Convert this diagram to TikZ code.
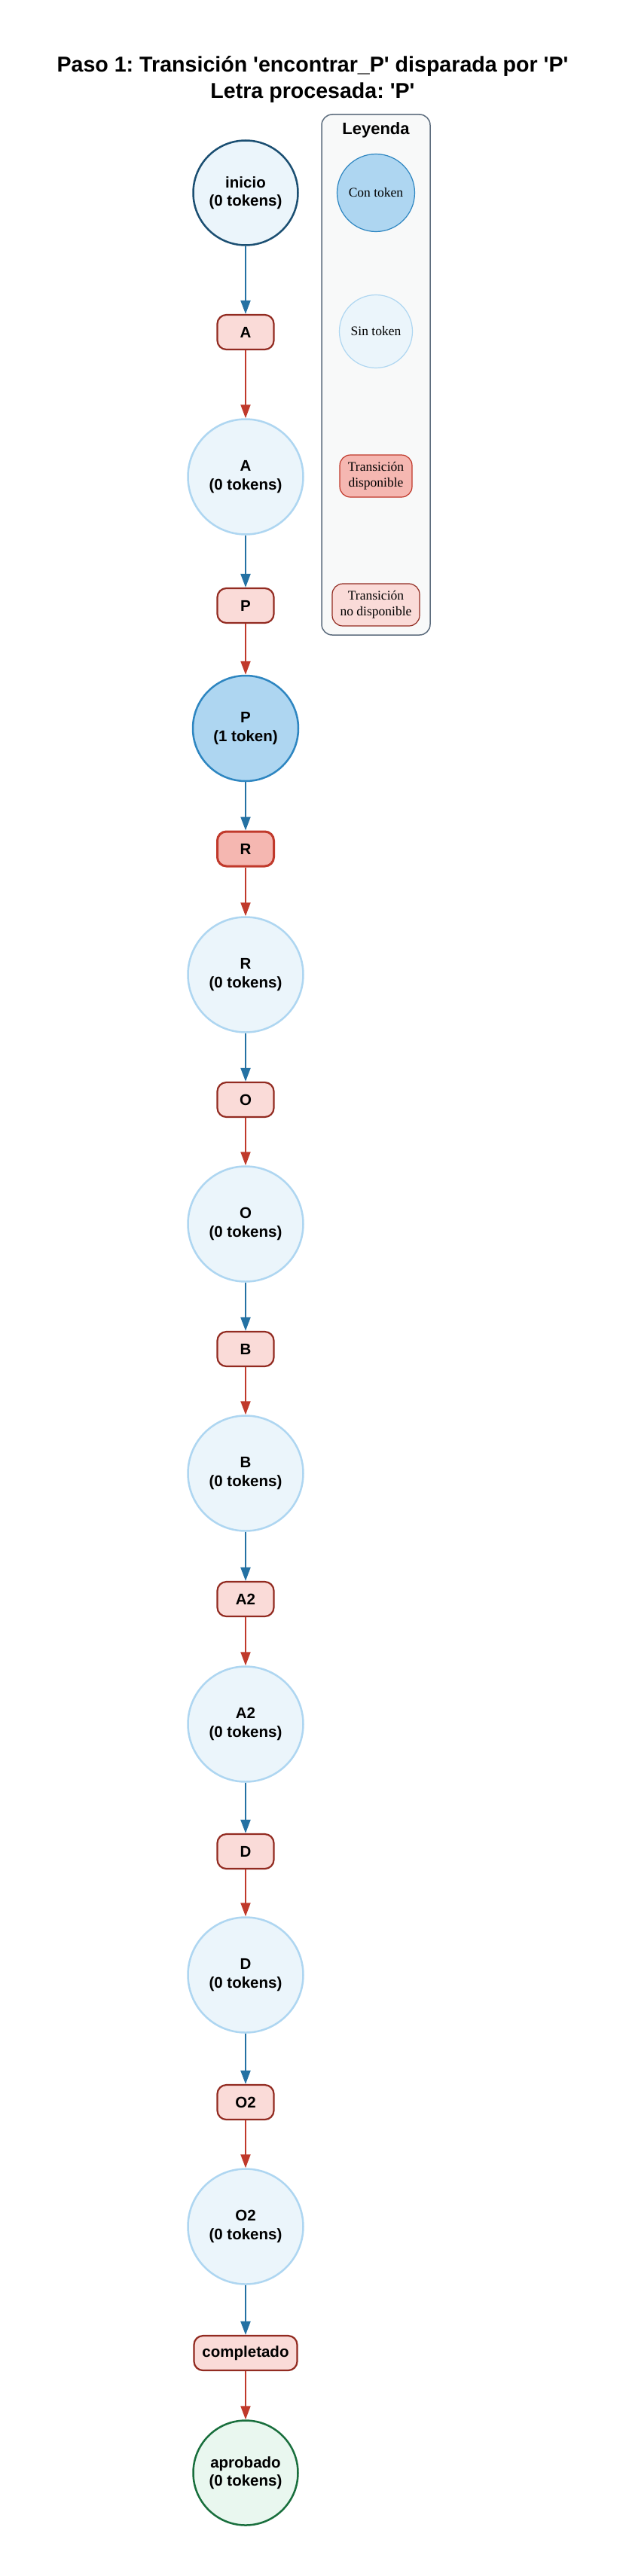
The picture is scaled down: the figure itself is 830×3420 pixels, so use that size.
\documentclass[tikz,border=0pt]{standalone}
\usepackage{fontspec}
\setmainfont{Liberation Sans}[Ligatures=TeXOff]
\newfontfamily\legserif{Liberation Serif}[Ligatures=TeXOff]
\usetikzlibrary{arrows.meta}
\definecolor{placefill}{HTML}{EBF5FB}
\definecolor{placeborder}{HTML}{AED6F1}
\definecolor{tokenfill}{HTML}{AED6F1}
\definecolor{tokenborder}{HTML}{2E86C1}
\definecolor{initborder}{HTML}{1B4F72}
\definecolor{finalfill}{HTML}{E9F7EF}
\definecolor{finalborder}{HTML}{196F3D}
\definecolor{transfill}{HTML}{FADBD8}
\definecolor{transborder}{HTML}{922B21}
\definecolor{enfill}{HTML}{F5B7B1}
\definecolor{enborder}{HTML}{C0392B}
\definecolor{arrblue}{HTML}{2471A3}
\definecolor{arrred}{HTML}{C0392B}
\definecolor{legfill}{HTML}{F8F9F9}
\definecolor{legborder}{HTML}{5D6D7E}
\frenchspacing
\begin{document}
\begin{tikzpicture}[x=1pt,y=-1pt,
  lbl/.style={align=center, font=\bfseries\fontsize{20.5}{24.3}\selectfont},
  place/.style={lbl, circle, draw=placeborder, fill=placefill, line width=2.5pt, minimum size=153pt, inner sep=0pt},
  tokplace/.style={place, draw=tokenborder, fill=tokenfill, minimum size=140pt},
  initplace/.style={place, draw=initborder, minimum size=139pt},
  finplace/.style={place, draw=finalborder, fill=finalfill, minimum size=139pt},
  trans/.style={lbl, rectangle, rounded corners=12pt, draw=transborder, fill=transfill, line width=2.2pt, minimum width=75pt, minimum height=46pt, inner xsep=11pt, inner ysep=0pt},
  entrans/.style={trans, draw=enborder, fill=enfill, line width=3pt},
  pt/.style={-{Triangle[length=18pt,width=13pt]}, line width=2pt, draw=arrblue},
  tp/.style={-{Triangle[length=18pt,width=13pt]}, line width=2pt, draw=arrred},
  legtxt/.style={align=center, font=\legserif\fontsize{17.5}{21}\selectfont},
]
\useasboundingbox (0,0) rectangle (830,3420);
\fill[white] (0,0) rectangle (830,3420);

\node[align=center, font=\bfseries\fontsize{28.6}{35}\selectfont] (title) at (415,105)
  {Paso 1: Transición 'encontrar\_P' disparada por 'P'\\Letra procesada: 'P'};

% legend
\draw[draw=legborder, fill=legfill, line width=1.5pt, rounded corners=14pt] (427,152) rectangle (571,843);
\node[font=\bfseries\fontsize{22}{26}\selectfont] (legtitle) at (499,173) {Leyenda};
\node[legtxt, circle, draw=tokenborder, fill=tokenfill, line width=1.2pt, minimum size=103pt, inner sep=0pt] (lcon) at (499,256) {Con token};
\node[legtxt, circle, draw=placeborder, fill=placefill, line width=1.2pt, minimum size=97pt, inner sep=0pt] (lsin) at (499,440) {Sin token};
\node[legtxt, rectangle, rounded corners=14pt, draw=enborder, fill=enfill, line width=1.2pt, minimum width=96pt, minimum height=56pt, inner sep=2pt] (ldisp) at (499,632) {Transición\\disponible};
\node[legtxt, rectangle, rounded corners=14pt, draw=transborder, fill=transfill, line width=1.2pt, minimum width=116pt, minimum height=56pt, inner sep=2pt] (lnodisp) at (499,803) {Transición\\no disponible};

% places
\node[initplace] (inicio) at (326,256) {inicio\\(0 tokens)};
\node[place] (pA) at (326,633) {A\\(0 tokens)};
\node[tokplace] (pP) at (326,967) {P\\(1 token)};
\node[place] (pR) at (326,1294) {R\\(0 tokens)};
\node[place] (pO) at (326,1625) {O\\(0 tokens)};
\node[place] (pB) at (326,1956) {B\\(0 tokens)};
\node[place] (pA2) at (326,2289) {A2\\(0 tokens)};
\node[place] (pD) at (326,2622) {D\\(0 tokens)};
\node[place] (pO2) at (326,2956) {O2\\(0 tokens)};
\node[finplace] (aprobado) at (326,3283) {aprobado\\(0 tokens)};

% transitions
\node[trans] (tA) at (326,441) {A};
\node[trans] (tP) at (326,804) {P};
\node[entrans] (tR) at (326,1127) {R};
\node[trans] (tO) at (326,1460) {O};
\node[trans] (tB) at (326,1791) {B};
\node[trans] (tA2) at (326,2123) {A2};
\node[trans] (tD) at (326,2458) {D};
\node[trans] (tO2) at (326,2791) {O2};
\node[trans] (tC) at (326,3124) {completado};

% arcs
\draw[pt] (inicio) -- (tA);
\draw[tp] (tA) -- (pA);
\draw[pt] (pA) -- (tP);
\draw[tp] (tP) -- (pP);
\draw[pt] (pP) -- (tR);
\draw[tp] (tR) -- (pR);
\draw[pt] (pR) -- (tO);
\draw[tp] (tO) -- (pO);
\draw[pt] (pO) -- (tB);
\draw[tp] (tB) -- (pB);
\draw[pt] (pB) -- (tA2);
\draw[tp] (tA2) -- (pA2);
\draw[pt] (pA2) -- (tD);
\draw[tp] (tD) -- (pD);
\draw[pt] (pD) -- (tO2);
\draw[tp] (tO2) -- (pO2);
\draw[pt] (pO2) -- (tC);
\draw[tp] (tC) -- (aprobado);
\end{tikzpicture}
\end{document}
